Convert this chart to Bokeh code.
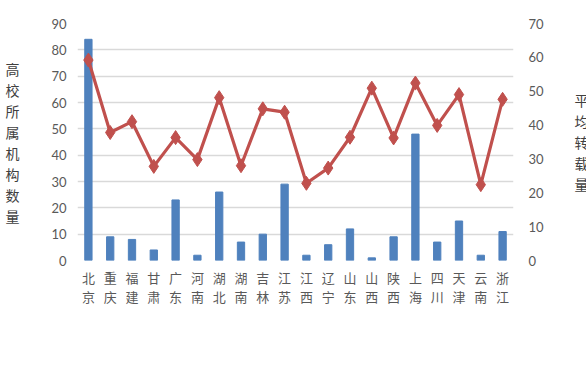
from bokeh.plotting import figure
from bokeh.models import (Range1d, LinearAxis, Legend, LegendItem,
                          SingleIntervalTicker, FixedTicker, Title, ColumnDataSource)
from bokeh.embed import file_html
from bokeh.resources import INLINE

regions = ["北京", "重庆", "福建", "甘肃", "广东", "河南", "湖北", "湖南", "吉林", "江苏",
           "江西", "辽宁", "山东", "山西", "陕西", "上海", "四川", "天津", "云南", "浙江"]
counts = [84, 9, 8, 4, 23, 2, 26, 7, 10, 29, 2, 6, 12, 1, 9, 48, 7, 15, 2, 11]
avg_reprint = [59.2, 37.8, 41.0, 27.8, 36.3, 29.8, 48.1, 28.0, 44.8, 43.8,
               22.8, 27.3, 36.4, 50.9, 36.2, 52.4, 39.9, 49.0, 22.4, 47.6]

bar_name = "高校所属机构数量（家）"
line_name = "高校所属机构平均转载量（篇）"
left_title = "高校所属机构数量"
right_title = "平均转载量"
caption = "图 6　 各地区高校所属机构入选数量和平均转载量图↵"

FW, FH = 436, 237
pos = [i + 0.5 for i in range(len(regions))]  # category centres
src = ColumnDataSource(dict(x=pos, region=regions, count=counts, avg=avg_reprint))

p = figure(frame_width=FW, frame_height=FH,
           x_range=Range1d(0, len(regions)),
           y_range=Range1d(0, 90), output_backend="svg", toolbar_location=None,
           min_border_left=77, min_border_right=50, min_border_top=23, min_border_bottom=10)
p.extra_y_ranges = {"right": Range1d(0, 70)}
p.outline_line_color = None

bars = p.vbar(x="x", top="count", width=0.335, color="#4F81BD", source=src)
ln = p.line(x="x", y="avg", line_color="#C0504D", line_width=3.2,
            y_range_name="right", source=src)
sc = p.scatter(x="x", y="avg", marker="diamond", size=14, color="#C0504D",
               y_range_name="right", source=src)

tick_color = "#595959"
cjk = "Noto Sans CJK SC"

ya = p.yaxis[0]
ya.ticker = SingleIntervalTicker(interval=10)
ya.axis_line_color = None
ya.major_tick_line_color = None
ya.major_tick_out = 0
ya.minor_tick_line_color = None
ya.major_label_text_color = tick_color
ya.major_label_text_font = "Lato"
ya.major_label_text_font_size = "13px"
ya.major_label_standoff = 7
ya.axis_label = "\n".join(left_title)
ya.axis_label_orientation = "horizontal"
ya.axis_label_text_font = cjk
ya.axis_label_text_font_style = "normal"
ya.axis_label_text_font_size = "14px"
ya.axis_label_text_color = "#404040"
ya.axis_label_text_line_height = 1.05
ya.axis_label_standoff = 29

ra = LinearAxis(y_range_name="right", ticker=SingleIntervalTicker(interval=10))
ra.axis_line_color = None
ra.major_tick_line_color = None
ra.major_tick_out = 0
ra.minor_tick_line_color = None
ra.major_label_text_color = tick_color
ra.major_label_text_font = "Lato"
ra.major_label_text_font_size = "13px"
ra.major_label_standoff = 11
ra.axis_label = "\n".join(right_title)
ra.axis_label_orientation = "horizontal"
ra.axis_label_text_font = cjk
ra.axis_label_text_font_style = "normal"
ra.axis_label_text_font_size = "14px"
ra.axis_label_text_color = "#404040"
ra.axis_label_text_line_height = 1.05
ra.axis_label_standoff = 28
p.add_layout(ra, "right")

xa = p.xaxis[0]
xa.ticker = FixedTicker(ticks=pos)
xa.major_label_overrides = {x: "\n".join(r) for x, r in zip(pos, regions)}
xa.axis_line_color = None
xa.major_tick_line_color = None
xa.major_tick_out = 0
xa.minor_tick_line_color = None
xa.major_label_text_color = tick_color
xa.major_label_text_font = cjk
xa.major_label_text_font_size = "13px"
xa.major_label_text_line_height = 1.0
xa.major_label_standoff = 7

p.xgrid.grid_line_color = None
p.ygrid.grid_line_color = "#D9D9D9"
p.ygrid.grid_line_width = 1.3

legend = Legend(items=[LegendItem(label=bar_name, renderers=[bars]),
                       LegendItem(label=line_name, renderers=[ln, sc])],
                orientation="horizontal", location="top_left",
                label_text_font=cjk, label_text_font_size="12.5px",
                label_text_color=tick_color, glyph_width=28, glyph_height=10,
                spacing=32, border_line_color=None, background_fill_alpha=0,
                padding=13, margin=0, label_standoff=4)
p.add_layout(legend, "below")

t = Title(text=caption, align="center", text_font=cjk, text_font_size="16px",
          text_font_style="normal", text_color="black", standoff=6, offset=-5)
p.add_layout(t, "below")

open("out.html", "w").write(file_html(p, INLINE))
